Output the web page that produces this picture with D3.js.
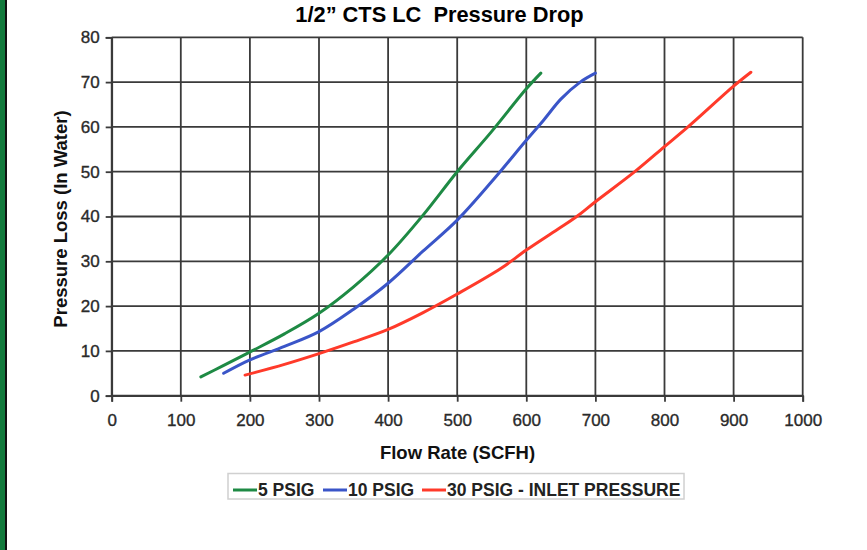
<!DOCTYPE html>
<html><head><meta charset="utf-8">
<script src="https://cdn.jsdelivr.net/npm/d3@7"></script>
<style>html,body{margin:0;padding:0;background:#fff;}svg{display:block;}</style>
</head><body>
<svg id="chart" width="867" height="550"></svg>
<script>
const title = "1/2\u201D CTS LC  Pressure Drop";
const xLabel = "Flow Rate (SCFH)";
const yLabel = "Pressure Loss (In Water)";
const xTicks = [0,100,200,300,400,500,600,700,800,900,1000];
const yTicks = [0,10,20,30,40,50,60,70,80];
const seriesNames = ["5 PSIG","10 PSIG","30 PSIG - INLET PRESSURE"];
const seriesColors = ["#1e8a44","#3a55c8","#ff3a2a"];
const flow5 = [129,160,203,250,300,350,400,450,500,550,600,621];
const loss5 = [4.2,6.6,10,13.8,18.4,24.3,31.4,40.2,50,59,68.5,72];
const flow10 = [162,200,250,300,350,400,450,500,550,600,625,650,678,700];
const loss10 = [5,8,11,14.3,19.3,25.1,32.2,39.2,47.8,57,61.5,66.2,70,72];
const flow30 = [193,250,300,350,400,450,500,563,600,644,673,700,757,800,834,900,925];
const loss30 = [4.6,7,9.4,12,14.8,18.5,22.7,28.4,32.5,37,40,43.3,50,55.6,60,69.1,72.2];

const svg = d3.select("#chart");
const font = "'Liberation Sans', Arial, sans-serif";
const x = d3.scaleLinear().domain([0,1000]).range([111.7,802.7]);
const y = d3.scaleLinear().domain([0,80]).range([395.7,37.3]);

// left decoration bar
svg.append("rect").attr("x",0).attr("y",0).attr("width",5).attr("height",550).attr("fill","#137a3c");
svg.append("rect").attr("x",5).attr("y",0).attr("width",2).attr("height",550).attr("fill","#111");

// title
svg.append("text").attr("x",439.5).attr("y",21.5).attr("text-anchor","middle")
  .style("white-space","pre").attr("xml:space","preserve")
  .attr("font-family",font).attr("font-weight","bold").attr("font-size",21.8).attr("fill","#000").text(title);

const gridColor = "#3a3a3a";
// grid
svg.append("g").selectAll("line").data(xTicks).join("line")
  .attr("x1",d=>x(d)).attr("x2",d=>x(d)).attr("y1",y(80)).attr("y2",y(0))
  .attr("stroke",gridColor).attr("stroke-width",1.8);
svg.append("g").selectAll("line").data(yTicks).join("line")
  .attr("x1",x(0)).attr("x2",x(1000)).attr("y1",d=>y(d)).attr("y2",d=>y(d))
  .attr("stroke",gridColor).attr("stroke-width",1.8);

// axes
const xAxis = d3.axisBottom(x).tickValues(xTicks).tickSize(6).tickPadding(12).tickFormat(d3.format("d"));
const gx = svg.append("g").attr("transform",`translate(0,${y(0)})`).call(xAxis);
const yAxis = d3.axisLeft(y).tickValues(yTicks).tickSize(6).tickPadding(6).tickFormat(d3.format("d"));
const gy = svg.append("g").attr("transform",`translate(${x(0)},0)`).call(yAxis);
[gx,gy].forEach(g=>{
  g.select(".domain").attr("stroke",gridColor).attr("stroke-width",1.8);
  g.selectAll(".tick line").attr("stroke",gridColor).attr("stroke-width",1.8);
  g.selectAll(".tick text").attr("font-family",font).attr("font-size",17).attr("fill","#2a2a2a")
    .attr("stroke","#2a2a2a").attr("stroke-width",0.35);
});
gx.selectAll(".tick text").attr("dy","0.71em");

// axis labels
svg.append("text").attr("x",457.5).attr("y",458.5).attr("text-anchor","middle")
  .attr("font-family",font).attr("font-weight","bold").attr("font-size",18.5).attr("fill","#111").text(xLabel);
svg.append("text").attr("transform","translate(67,219) rotate(-90)").attr("text-anchor","middle")
  .attr("font-family",font).attr("font-weight","bold").attr("font-size",18.5).attr("fill","#111").text(yLabel);

// lines
const data = [
  flow5.map((f,i)=>({f, l:loss5[i]})),
  flow10.map((f,i)=>({f, l:loss10[i]})),
  flow30.map((f,i)=>({f, l:loss30[i]}))
];
const line = d3.line().x(d=>x(d.f)).y(d=>y(d.l)).curve(d3.curveCatmullRom.alpha(0.5));
svg.append("g").selectAll("path").data(data).join("path")
  .attr("d",line).attr("fill","none").attr("stroke",(d,i)=>seriesColors[i])
  .attr("stroke-width",3).attr("stroke-linecap","round");

// legend
svg.append("rect").attr("x",228).attr("y",473.5).attr("width",456).attr("height",25.5)
  .attr("fill","#fff").attr("stroke","#d0d0d0").attr("stroke-width",1.5);
const legX = [233,323,422];
const lg = svg.append("g").selectAll("g").data(seriesNames).join("g")
  .attr("transform",(d,i)=>`translate(${legX[i]},490)`);
lg.append("line").attr("x1",0).attr("x2",24).attr("y1",0).attr("y2",0)
  .attr("stroke",(d,i)=>seriesColors[i]).attr("stroke-width",3);
lg.append("text").attr("x",25).attr("y",6.3).attr("font-family",font).attr("font-weight","bold")
  .attr("font-size",17.5).attr("fill","#222").text(d=>d);
</script>
</body></html>
